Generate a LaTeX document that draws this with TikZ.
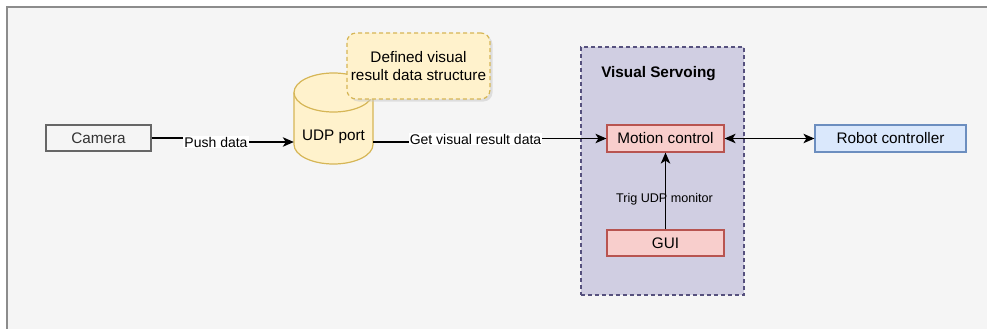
\documentclass[tikz,border=0pt]{standalone}
\usepackage{fontspec}
\setmainfont{Liberation Sans}
\usetikzlibrary{arrows.meta,shadows}
\definecolor{hgrund}{HTML}{F5F5F5}
\definecolor{rand}{HTML}{8C8C8C}
\definecolor{grau}{HTML}{666666}
\definecolor{dgrau}{HTML}{333333}
\definecolor{gelb}{HTML}{FFF2CC}
\definecolor{gelbr}{HTML}{D6B656}
\definecolor{rot}{HTML}{F8CECC}
\definecolor{rotr}{HTML}{B85450}
\definecolor{blau}{HTML}{DAE8FC}
\definecolor{blaur}{HTML}{6C8EBF}
\definecolor{lila}{HTML}{D0CEE2}
\definecolor{lilar}{HTML}{56517E}
\newcommand\fgross{\fontsize{15.3}{18.5}\selectfont}
\newcommand\fmittel{\fontsize{14}{16}\selectfont}
\newcommand\fklein{\fontsize{12.6}{15}\selectfont}
\tikzset{
  kasten/.style={draw,line width=1.2pt,inner sep=0pt,font=\fgross},
  zylinder/.style={fill=gelb,draw=gelbr,line width=1.2pt},
  notiz/.style={kasten,fill=gelb,draw=gelbr,dash pattern=on 4pt off 3pt,rounded corners=9pt,
    align=center,minimum width=143pt,minimum height=66pt,
    drop shadow={shadow xshift=2.5pt,shadow yshift=-2.5pt,fill=black!22}},
  gruppe/.style={fill=lila,draw=lilar,line width=1.2pt,dash pattern=on 4pt off 3pt,
    minimum width=163pt,minimum height=248pt,inner sep=0pt},
  pfeil/.style={-{Stealth[length=11pt,width=9.5pt,inset=3pt]},line width=1.2pt},
  pfeil2/.style={{Stealth[length=11pt,width=9.5pt,inset=3pt]}-{Stealth[length=11pt,width=9.5pt,inset=3pt]},line width=1.2pt},
  marke/.style={fill=white,inner sep=1pt,font=\fmittel},
}

\begin{document}
\begin{tikzpicture}[x=1pt,y=-1pt]
  \useasboundingbox (0,0) rectangle (987,329);
  % ===== Hintergrund =====
  \fill[hgrund] (7,7) rectangle (995,335);
  \draw[rand,line width=1.4pt] (7,335)--(7,7)--(995,7);
  % ===== Gruppe Visual Servoing =====
  \node[gruppe] (vs) at (662.5,171) {};
  \node[font=\fgross\bfseries] (vstitel) at (658.5,74) {Visual Servoing};
  % ===== UDP-Zylinder =====
  \draw[zylinder] (294,92.5)--(294,144.5)
    arc[start angle=180,end angle=360,x radius=39.5pt,y radius=19.5pt]--(373,92.5)
    arc[start angle=0,end angle=180,x radius=39.5pt,y radius=19.5pt]--cycle;
  \draw[gelbr,line width=1.2pt] (294,92.5)
    arc[start angle=180,end angle=360,x radius=39.5pt,y radius=19.5pt];
  \node[font=\fgross,minimum width=79pt,inner sep=0pt] (udp) at (333.5,137) {UDP port};
  \node[notiz] (notiz) at (418.5,66) {Defined visual\\result data structure};
  % ===== Kästen =====
  \node[kasten,fill=hgrund,draw=grau,text=dgrau,minimum width=105pt,minimum height=26pt]
    (cam) at (98.5,138) {Camera};
  \node[kasten,fill=rot,draw=rotr,minimum width=117pt,minimum height=27pt]
    (motion) at (665.5,138.5) {Motion control};
  \node[kasten,fill=rot,draw=rotr,minimum width=117pt,minimum height=26pt]
    (gui) at (665.5,243) {GUI};
  \node[kasten,fill=blau,draw=blaur,minimum width=151pt,minimum height=27pt]
    (robot) at (890.5,138.5) {Robot controller};
  % ===== Verbindungen =====
  \draw[pfeil] (cam.east) -| (216,140) |- ([yshift=-5pt]udp.west);
  \node[marke] (push) at (216,142) {Push data};
  \draw[pfeil] ([yshift=-5pt]udp.east) -| (475.5,140) |- (motion.west);
  \node[marke] (get) at (475.5,139) {Get visual result data};
  \draw[pfeil2] (motion) -- (robot);
  \draw[pfeil] (gui) -- (motion);
  \node[font=\fklein,inner sep=1pt] (trig) at (664.5,199) {Trig UDP monitor};
\end{tikzpicture}
\end{document}
